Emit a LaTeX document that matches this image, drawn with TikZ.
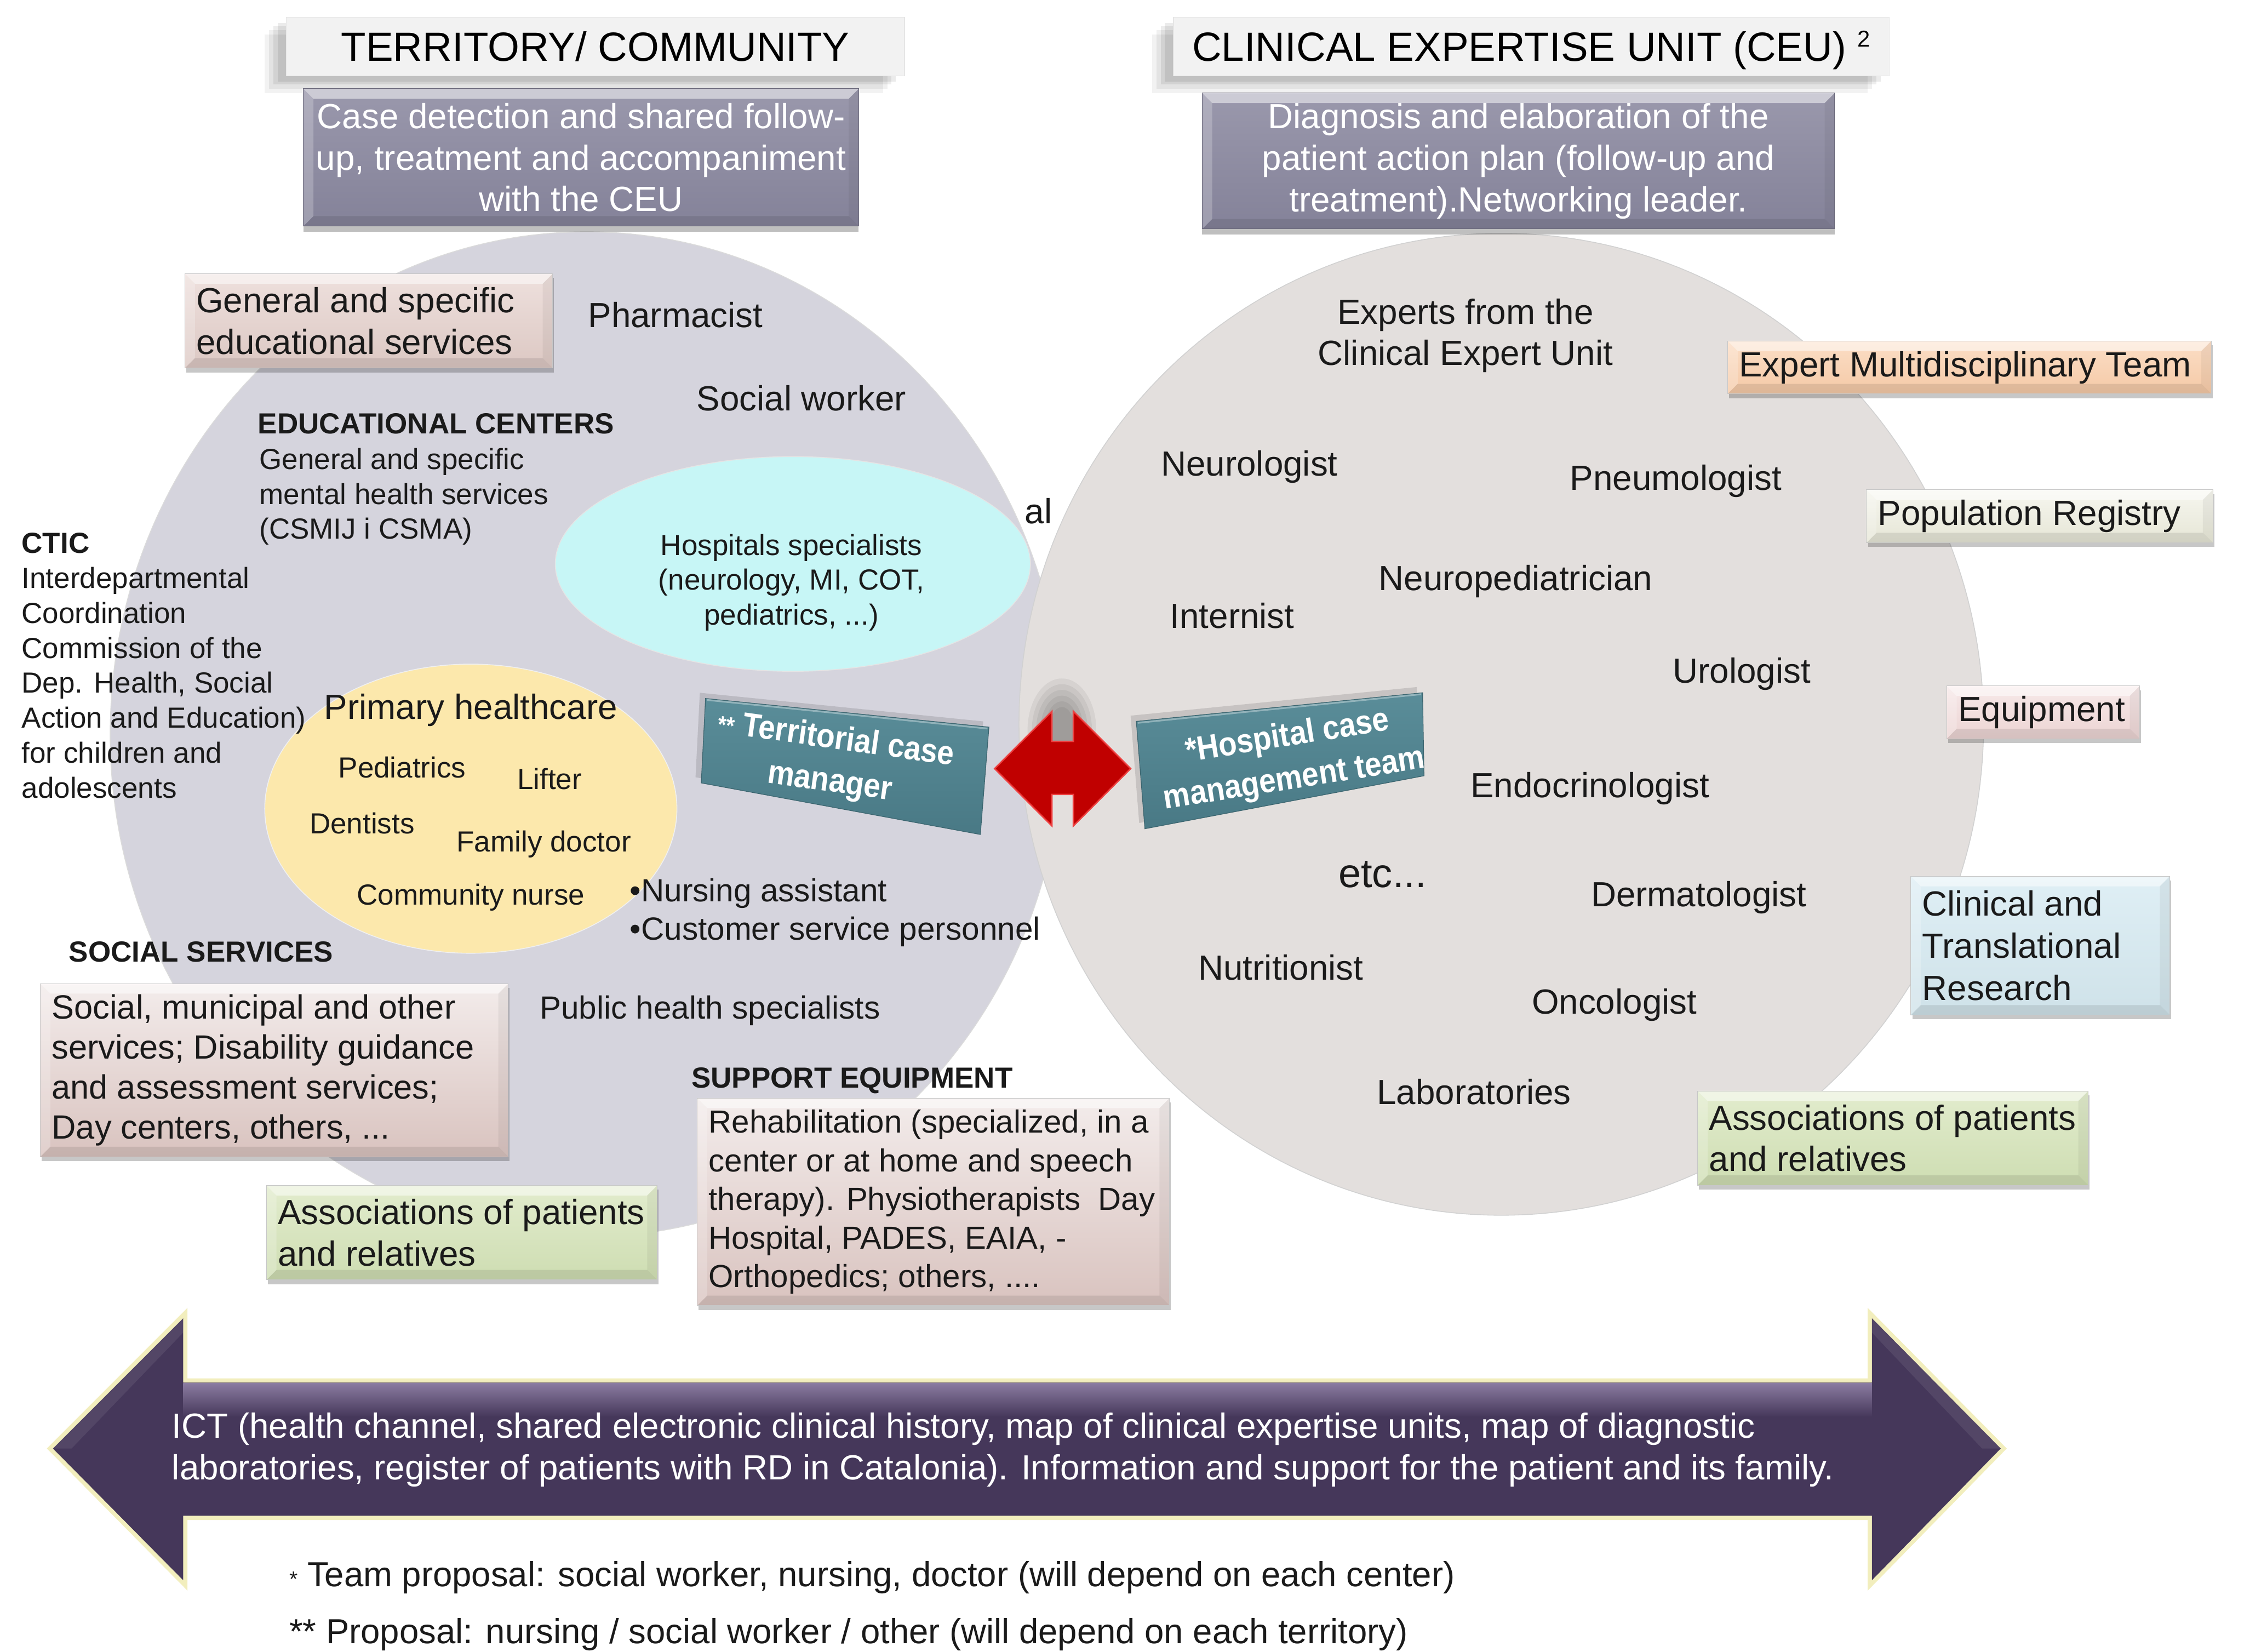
\documentclass[tikz,border=0pt]{standalone}
\usepackage{fontspec}
\setmainfont{Liberation Sans}
\usetikzlibrary{shapes.geometric,shadows}

\definecolor{ink}{HTML}{1A1A1A}
\definecolor{hdrfill}{HTML}{F2F2F2}
\definecolor{goalT}{HTML}{9A98AC}
\definecolor{goalB}{HTML}{848299}
\definecolor{tealT}{HTML}{5A8D99}
\definecolor{tealB}{HTML}{497985}
\definecolor{arrred}{HTML}{C00000}
\definecolor{arrhi}{HTML}{EE4040}
\definecolor{ictfill}{HTML}{45375A}
\definecolor{icthi}{HTML}{8A7BA0}
\definecolor{glow}{HTML}{EEE9A8}
\definecolor{pinkT}{HTML}{F3ECEB}
\definecolor{pinkB}{HTML}{D9C3BF}
\definecolor{eduT}{HTML}{EEE0DD}
\definecolor{eduB}{HTML}{DCC8C3}
\definecolor{greenT}{HTML}{E2ECCD}
\definecolor{greenB}{HTML}{CEDDB2}
\definecolor{orangeT}{HTML}{FBDEC6}
\definecolor{orangeB}{HTML}{F5C9A6}
\definecolor{creamT}{HTML}{F6F6EF}
\definecolor{creamB}{HTML}{E6E6D6}
\definecolor{equipT}{HTML}{F7E9E9}
\definecolor{equipB}{HTML}{ECD4D3}
\definecolor{blueT}{HTML}{DFEFF5}
\definecolor{blueB}{HTML}{CFE2E9}

\newcommand\ftsz[2]{\fontsize{#1}{#2}\selectfont}
\newcommand\tallline[1]{\scalebox{1}[1.12]{#1}}

% soft light rims for the discs
\pgfdeclareradialshading{leftrim}{\pgfpoint{0bp}{0bp}}{rgb(0bp)=(0.835,0.831,0.867); rgb(44bp)=(0.835,0.831,0.867); rgb(48.5bp)=(0.875,0.872,0.9); rgb(50bp)=(0.94,0.94,0.95)}
\pgfdeclareradialshading{rightrim}{\pgfpoint{0bp}{0bp}}{rgb(0bp)=(0.890,0.875,0.867); rgb(44bp)=(0.890,0.875,0.867); rgb(48.5bp)=(0.92,0.91,0.905); rgb(50bp)=(0.96,0.955,0.95)}
\pgfdeclareradialshading{yelrim}{\pgfpoint{0bp}{0bp}}{rgb(0bp)=(0.988,0.91,0.675); rgb(42bp)=(0.988,0.91,0.675); rgb(48bp)=(0.995,0.94,0.76); rgb(50bp)=(1,0.97,0.86)}
\pgfdeclareradialshading{cyanrim}{\pgfpoint{0bp}{0bp}}{rgb(0bp)=(0.78,0.965,0.965); rgb(44bp)=(0.78,0.965,0.965); rgb(50bp)=(0.72,0.92,0.92)}

\tikzset{
  lbl/.style={inner sep=0pt, text=ink, font=\ftsz{24.4}{29}},
  lblsm/.style={inner sep=0pt, text=ink, font=\ftsz{20.3}{24.4}},
  lblmd/.style={inner sep=0pt, text=ink, font=\ftsz{22.4}{27}},
  hdbold/.style={inner sep=0pt, text=ink, font=\bfseries\ftsz{20.3}{24}},
  disc/.style={ellipse, inner sep=0pt, shade, draw=black!14, line width=.6pt},
  bevel/.style={path picture={
    \fill[white,opacity=.5] (path picture bounding box.north west) -- (path picture bounding box.north east)
      -- ([xshift=-7pt,yshift=-7pt]path picture bounding box.north east) -- ([xshift=7pt,yshift=-7pt]path picture bounding box.north west) -- cycle;
    \fill[white,opacity=.22] (path picture bounding box.north west) -- ([xshift=7pt,yshift=-7pt]path picture bounding box.north west)
      -- ([xshift=7pt,yshift=7pt]path picture bounding box.south west) -- (path picture bounding box.south west) -- cycle;
    \fill[black,opacity=.05] (path picture bounding box.north east) -- ([xshift=-7pt,yshift=-7pt]path picture bounding box.north east)
      -- ([xshift=-7pt,yshift=7pt]path picture bounding box.south east) -- (path picture bounding box.south east) -- cycle;
    \fill[black,opacity=.09] (path picture bounding box.south west) -- ([xshift=7pt,yshift=7pt]path picture bounding box.south west)
      -- ([xshift=-7pt,yshift=7pt]path picture bounding box.south east) -- (path picture bounding box.south east) -- cycle;
  }},
  cbox/.style 2 args={top color=#1, bottom color=#2, draw=white!78!black, line width=.4pt, inner sep=0pt,
    anchor=north west, bevel, drop shadow={shadow xshift=1pt, shadow yshift=-3pt, fill=black, opacity=.22}},
  boxtxt/.style={inner sep=0pt, text=ink, align=left, anchor=west, font=\ftsz{24.4}{29}},
  hdrshadow/.style={
    general shadow={fill=black, opacity=.05, shadow xshift=-15pt, shadow yshift=-12pt},
    general shadow={fill=black, opacity=.06, shadow xshift=-12pt, shadow yshift=-9pt},
    general shadow={fill=black, opacity=.07, shadow xshift=-9pt, shadow yshift=-6pt},
    general shadow={fill=black, opacity=.08, shadow xshift=-6pt, shadow yshift=-4pt}},
  hdr/.style={fill=hdrfill, draw=black!10, line width=.5pt, inner sep=0pt, text=black,
    font=\ftsz{28.5}{30}, text height=20.8pt, text depth=0.4pt, hdrshadow},
  goal/.style={top color=goalT, bottom color=goalB, draw=goalB!80!black, line width=.4pt, inner sep=0pt,
    text=white, align=center, font=\ftsz{24.4}{29}, bevel,
    drop shadow={shadow xshift=0pt, shadow yshift=-4pt, fill=black, opacity=.25}},
  tealquad/.style={top color=tealT, bottom color=tealB, draw=tealB!85!black, line width=.5pt,
    general shadow={fill=black, opacity=.12, shadow xshift=-4pt, shadow yshift=4pt}},
  tealtxt/.style={inner sep=0pt, text=white, align=center, font=\bfseries\ftsz{21}{30}},
}

\begin{document}
\begin{tikzpicture}[x=1pt,y=-1pt]
\useasboundingbox (0,0) rectangle (1568,1154);
\fill[white] (0,0) rectangle (1568,1154);

% ---------- territory / community disc ----------
\node[disc, minimum width=666pt, minimum height=702pt, shading=leftrim] (terr) at (410,513) {};
\node[disc, minimum width=332pt, minimum height=150pt, shading=cyanrim, draw=black!10] (hosp) at (554,394) {};
\node[disc, minimum width=288pt, minimum height=202pt, shading=yelrim, draw=black!6] (prim) at (329,565) {};

\node[lbl] (pharm) at (472,220) {Pharmacist};
\node[lbl] (socw) at (560,278) {Social worker};
\node[hdbold, anchor=west] (educ) at (180,296) {EDUCATIONAL CENTERS};
\node[lblsm, anchor=west, align=left] (mental) at (181,347) {General and specific\\mental health services\\(CSMIJ i CSMA)};
\node[lblsm, anchor=west, align=left] (ctic) at (15,465) {\textbf{CTIC}\\Interdepartmental\\Coordination\\Commission of the\\Dep. Health, Social\\Action and Education)\\for children and\\adolescents};
\node[lbl, anchor=west] (hospal) at (716,357) {al};
\node[lblsm, align=center] (hospt) at (553,407) {Hospitals specialists\\(neurology, MI, COT,\\pediatrics, ...)};
\node[lbl] (primt) at (329,496) {Primary healthcare};
\node[lblsm] (pedi) at (281,536) {Pediatrics};
\node[lblsm] (lift) at (384,544) {Lifter};
\node[lblsm] (dent) at (253,575) {Dentists};
\node[lblsm] (famd) at (380,590) {Family doctor};
\node[lblsm] (comn) at (329,627) {Community nurse};
\node[lblmd, anchor=west] (nurs) at (440,624) {•Nursing assistant};
\node[lblmd, anchor=west] (cust) at (440,651) {•Customer service personnel};
\node[hdbold, anchor=west] (socs) at (48,665) {SOCIAL SERVICES};
\node[lblmd, anchor=west] (pubh) at (377,706) {Public health specialists};
\node[hdbold, anchor=west] (supp) at (483,755) {SUPPORT EQUIPMENT};

% ---------- clinical expertise unit disc ----------
\node[disc, minimum width=674pt, minimum height=686pt, shading=rightrim, draw=black!18] (ceu) at (1049,506) {};

\node[lbl, align=center] (experts) at (1024,234.5) {Experts from the\\Clinical Expert Unit};
\node[lbl] (neuro) at (873,326) {Neurologist};
\node[lbl] (pneu) at (1171,336) {Pneumologist};
\node[lbl] (neuped) at (1059,406) {Neuropediatrician};
\node[lbl] (intern) at (861,430) {Internist};
\node[lbl] (urol) at (1217,471) {Urologist};
\node[lbl] (endo) at (1111,551) {Endocrinologist};
\node[inner sep=0pt, text=ink, font=\ftsz{28.4}{30}] (etc) at (966,611) {etc...};
\node[lbl] (derm) at (1187,627) {Dermatologist};
\node[lbl] (nutr) at (895,676) {Nutritionist};
\node[lbl] (onco) at (1128,702) {Oncologist};
\node[lbl] (labs) at (1030,763) {Laboratories};

% ---------- case managers and the link between them ----------
\path[tealquad] (493,488) -- (691,508) -- (685,583) -- (490,547) -- cycle;
\draw[white, opacity=.35, line width=1.2pt] (494,489) -- (690,509);
\node[tealtxt, rotate=-8] (tcm) at (582,532) {\tallline{{\ftsz{15}{15}**} Territorial case}\\\tallline{manager}};

\path[tealquad] (794,504) -- (994,484) -- (995,542) -- (800,579) -- cycle;
\draw[white, opacity=.35, line width=1.2pt] (795,505) -- (993,485);
\node[tealtxt, rotate=9] (hcm) at (902,530) {\tallline{*Hospital case}\\\tallline{management team}};

\foreach \r in {1,...,6}
  \fill[black, opacity=.055] (742,510) ellipse [x radius=6+3*\r, y radius=12+4*\r];
\filldraw[fill=arrred, draw=arrhi, line width=1pt, line join=miter]
  (695,537) -- (735,497) -- (735,518) -- (750,518) -- (750,497) -- (790,537)
  -- (750,577) -- (750,555) -- (735,555) -- (735,577) -- cycle;

% ---------- surrounding service boxes ----------
\node[cbox={eduT}{eduB}, minimum width=257pt, minimum height=66pt] (eduBox) at (129,191) {};
\node[boxtxt] (eduTxt) at ([xshift=8pt]eduBox.west) {General and specific\\educational services};

\node[cbox={pinkT}{pinkB}, minimum width=327pt, minimum height=121pt] (socBox) at (28,687) {};
\node[boxtxt, font=\ftsz{23.5}{28}] (socTxt) at ([xshift=8pt]socBox.west) {Social, municipal and other\\services; Disability guidance\\and assessment services;\\Day centers, others, ...};

\node[cbox={greenT}{greenB}, minimum width=273pt, minimum height=66pt] (assLBox) at (186,828) {};
\node[boxtxt] (assLTxt) at ([xshift=8pt]assLBox.west) {Associations of patients\\and relatives};

\node[cbox={pinkT}{pinkB}, minimum width=330pt, minimum height=145pt] (rehBox) at (487,767) {};
\node[boxtxt, font=\ftsz{22.3}{27}] (rehTxt) at ([xshift=8pt]rehBox.west) {Rehabilitation (specialized, in a\\center or at home and speech\\therapy). Physiotherapists\ \ Day\\Hospital, PADES, EAIA, -\\Orthopedics; others, ....};

\node[cbox={orangeT}{orangeB}, minimum width=338pt, minimum height=37pt] (emtBox) at (1207,238) {};
\node[boxtxt] (emtTxt) at ([xshift=8pt]emtBox.west) {Expert Multidisciplinary Team};

\node[cbox={creamT}{creamB}, minimum width=242pt, minimum height=37pt] (popBox) at (1304,342) {};
\node[boxtxt] (popTxt) at ([xshift=8pt]popBox.west) {Population Registry};

\node[cbox={equipT}{equipB}, minimum width=135pt, minimum height=37pt] (eqBox) at (1360,479) {};
\node[boxtxt] (eqTxt) at ([xshift=8pt]eqBox.west) {Equipment};

\node[cbox={blueT}{blueB}, minimum width=181pt, minimum height=97pt] (resBox) at (1335,612) {};
\node[boxtxt, font=\ftsz{24.4}{29.5}] (resTxt) at ([xshift=8pt]resBox.west) {Clinical and\\Translational\\Research};

\node[cbox={greenT}{greenB}, minimum width=273pt, minimum height=66pt] (assRBox) at (1186,762) {};
\node[boxtxt] (assRTxt) at ([xshift=8pt]assRBox.west) {Associations of patients\\and relatives};

% ---------- column headings ----------
\node[hdr, minimum width=432pt, minimum height=41pt] (hterr) at (416,32.5) {TERRITORY/ COMMUNITY};
\node[hdr, minimum width=500pt, minimum height=41pt] (hceu) at (1070,32.5) {CLINICAL EXPERTISE UNIT (CEU) \smash{\ftsz{16}{16}\raisebox{10pt}{2}}};
\node[goal, minimum width=388pt, minimum height=96pt] (gterr) at (406,110) {Case detection and shared follow-\\up, treatment and accompaniment\\with the CEU};
\node[goal, minimum width=442pt, minimum height=95pt] (gceu) at (1061,112.5) {Diagnosis and elaboration of the\\patient action plan (follow-up and\\treatment).Networking leader.};

% ---------- ICT double arrow ----------
\path[preaction={draw=glow, line width=6pt, opacity=.75, line join=miter}, fill=ictfill]
  (37,1012) -- (128,921) -- (128,966) -- (1308,966) -- (1308,921) -- (1398,1012)
  -- (1308,1104) -- (1308,1059) -- (128,1059) -- (128,1104) -- cycle;
\shade[top color=icthi, bottom color=ictfill] (128,966.5) rectangle (1308,990);
\fill[white, opacity=.08] (37,1012) -- (128,921) -- (128,931) -- (50,1012) -- cycle;
\fill[white, opacity=.08] (1398,1012) -- (1308,921) -- (1308,931) -- (1385,1012) -- cycle;
\node[inner sep=0pt, anchor=west, align=left, text=white, font=\ftsz{24.4}{29.2}] (ict) at (120,1013)
  {ICT (health channel, shared electronic clinical history, map of clinical expertise units, map of diagnostic\\laboratories, register of patients with RD in Catalonia). Information and support for the patient and its family.};

% ---------- footnotes ----------
\node[inner sep=0pt, text=ink, font=\ftsz{24.3}{27}, anchor=west] (note1) at (202,1102) {{\ftsz{15}{15}*} Team proposal: social worker, nursing, doctor (will depend on each center)};
\node[inner sep=0pt, text=ink, font=\ftsz{24.3}{27}, anchor=west] (note2) at (202,1142) {** Proposal: nursing / social worker / other (will depend on each territory)};
\end{tikzpicture}
\end{document}
